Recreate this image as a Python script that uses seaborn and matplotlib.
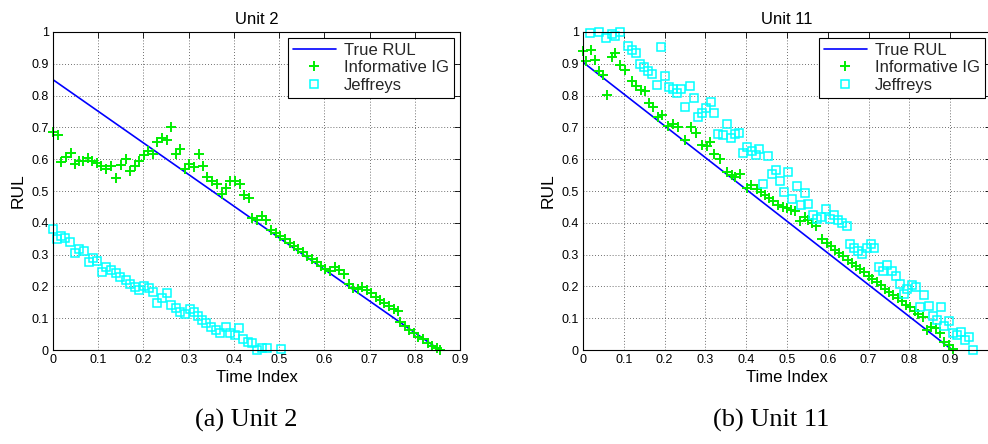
import matplotlib
matplotlib.use("Agg")
import matplotlib.pyplot as plt
import seaborn as sns

# ---------------- data ----------------
# Unit 2
u2_true_x = [0.0, 0.855]
u2_true_y = [0.85, 0.0]

u2_ig_x = [0.000, 0.011, 0.018, 0.028, 0.039, 0.048, 0.058, 0.066, 0.077, 0.087,
           0.097, 0.107, 0.118, 0.129, 0.140, 0.150, 0.161, 0.170, 0.181, 0.190,
           0.201, 0.210, 0.221, 0.230, 0.241, 0.251, 0.261, 0.271, 0.280, 0.291,
           0.301, 0.311, 0.323, 0.332, 0.341, 0.351, 0.362, 0.373, 0.382, 0.392,
           0.403, 0.413, 0.423, 0.433, 0.441, 0.452, 0.462, 0.472, 0.483, 0.493,
           0.502, 0.513, 0.523, 0.533, 0.542, 0.552, 0.562, 0.573, 0.583, 0.593,
           0.602, 0.613, 0.624, 0.633, 0.644, 0.654, 0.664, 0.674, 0.684, 0.694,
           0.703, 0.714, 0.723, 0.733, 0.743, 0.753, 0.762, 0.768, 0.779, 0.788,
           0.798, 0.808, 0.819, 0.829, 0.839, 0.849, 0.856]
u2_ig_y = [0.685, 0.675, 0.590, 0.608, 0.621, 0.584, 0.593, 0.595, 0.603, 0.595,
           0.588, 0.579, 0.569, 0.579, 0.540, 0.582, 0.600, 0.563, 0.579, 0.595,
           0.614, 0.626, 0.616, 0.653, 0.668, 0.661, 0.701, 0.616, 0.632, 0.570,
           0.584, 0.574, 0.616, 0.580, 0.543, 0.533, 0.523, 0.491, 0.511, 0.530,
           0.533, 0.522, 0.488, 0.477, 0.414, 0.409, 0.420, 0.409, 0.376, 0.367,
           0.357, 0.348, 0.338, 0.328, 0.318, 0.307, 0.297, 0.286, 0.276, 0.265,
           0.255, 0.247, 0.260, 0.252, 0.239, 0.207, 0.194, 0.191, 0.199, 0.189,
           0.178, 0.168, 0.157, 0.147, 0.139, 0.128, 0.124, 0.089, 0.076, 0.063,
           0.052, 0.042, 0.034, 0.023, 0.013, 0.005, 0.000]

u2_jf_x = [0.000, 0.009, 0.017, 0.027, 0.037, 0.048, 0.058, 0.069, 0.080, 0.089,
           0.098, 0.109, 0.118, 0.129, 0.140, 0.149, 0.161, 0.171, 0.181, 0.190,
           0.201, 0.212, 0.221, 0.230, 0.242, 0.251, 0.262, 0.271, 0.280, 0.291,
           0.302, 0.312, 0.321, 0.330, 0.339, 0.350, 0.361, 0.370, 0.382, 0.391,
           0.402, 0.412, 0.421, 0.431, 0.440, 0.451, 0.462, 0.473, 0.504]
u2_jf_y = [0.382, 0.348, 0.358, 0.351, 0.340, 0.306, 0.317, 0.312, 0.277, 0.290,
           0.281, 0.245, 0.260, 0.251, 0.241, 0.230, 0.220, 0.209, 0.199, 0.188,
           0.201, 0.194, 0.183, 0.149, 0.165, 0.178, 0.141, 0.131, 0.120, 0.113,
           0.129, 0.120, 0.106, 0.094, 0.084, 0.073, 0.063, 0.054, 0.073, 0.052,
           0.047, 0.068, 0.034, 0.024, 0.022, 0.000, 0.005, 0.005, 0.002]

# Unit 11
u11_true_x = [0.0, 0.905]
u11_true_y = [0.905, 0.0]

u11_ig_x = [0.000, 0.008, 0.019, 0.029, 0.038, 0.049, 0.060, 0.070, 0.079, 0.090,
            0.102, 0.119, 0.131, 0.142, 0.151, 0.162, 0.172, 0.184, 0.194, 0.209,
            0.221, 0.233, 0.250, 0.264, 0.276, 0.291, 0.303, 0.311, 0.322, 0.336,
            0.352, 0.364, 0.372, 0.385, 0.401, 0.412, 0.426, 0.436, 0.446, 0.457,
            0.466, 0.477, 0.489, 0.499, 0.510, 0.520, 0.532, 0.543, 0.552, 0.561,
            0.571, 0.585, 0.597, 0.607, 0.618, 0.628, 0.638, 0.649, 0.659, 0.668,
            0.679, 0.689, 0.700, 0.709, 0.720, 0.731, 0.741, 0.751, 0.761, 0.772,
            0.781, 0.792, 0.802, 0.813, 0.822, 0.833, 0.843, 0.853, 0.865, 0.876,
            0.886, 0.896, 0.906]
u11_ig_y = [0.939, 0.908, 0.944, 0.911, 0.878, 0.866, 0.803, 0.920, 0.934, 0.897,
            0.879, 0.845, 0.831, 0.819, 0.813, 0.777, 0.764, 0.732, 0.738, 0.703,
            0.711, 0.701, 0.659, 0.700, 0.682, 0.646, 0.640, 0.653, 0.617, 0.602,
            0.559, 0.551, 0.543, 0.553, 0.509, 0.520, 0.506, 0.496, 0.488, 0.478,
            0.467, 0.457, 0.449, 0.447, 0.441, 0.436, 0.405, 0.418, 0.410, 0.399,
            0.389, 0.350, 0.336, 0.326, 0.316, 0.305, 0.295, 0.284, 0.274, 0.265,
            0.255, 0.244, 0.234, 0.224, 0.214, 0.203, 0.193, 0.182, 0.174, 0.164,
            0.153, 0.143, 0.134, 0.124, 0.113, 0.103, 0.064, 0.072, 0.069, 0.053,
            0.024, 0.017, 0.003]

u11_jf_x = [0.018, 0.038, 0.057, 0.070, 0.079, 0.090, 0.110, 0.121, 0.131, 0.139,
            0.150, 0.160, 0.170, 0.182, 0.191, 0.200, 0.210, 0.221, 0.231, 0.241,
            0.251, 0.262, 0.272, 0.282, 0.292, 0.301, 0.313, 0.322, 0.331, 0.342,
            0.352, 0.363, 0.372, 0.382, 0.393, 0.403, 0.413, 0.423, 0.432, 0.442,
            0.453, 0.464, 0.473, 0.483, 0.493, 0.503, 0.513, 0.524, 0.534, 0.544,
            0.552, 0.563, 0.573, 0.583, 0.595, 0.606, 0.616, 0.626, 0.636, 0.646,
            0.655, 0.665, 0.675, 0.685, 0.696, 0.706, 0.714, 0.726, 0.736, 0.746,
            0.757, 0.767, 0.776, 0.786, 0.795, 0.806, 0.817, 0.826, 0.836, 0.847,
            0.857, 0.867, 0.878, 0.886, 0.896, 0.906, 0.917, 0.927, 0.937, 0.947,
            0.957]
u11_jf_y = [0.997, 1.000, 0.981, 0.995, 0.988, 1.000, 0.955, 0.944, 0.934, 0.899,
            0.889, 0.878, 0.869, 0.834, 0.952, 0.863, 0.826, 0.821, 0.808, 0.822,
            0.764, 0.829, 0.792, 0.732, 0.746, 0.761, 0.780, 0.746, 0.679, 0.677,
            0.711, 0.667, 0.679, 0.682, 0.619, 0.637, 0.627, 0.614, 0.633, 0.523,
            0.611, 0.553, 0.567, 0.530, 0.496, 0.560, 0.475, 0.515, 0.455, 0.494,
            0.459, 0.423, 0.412, 0.419, 0.444, 0.413, 0.423, 0.408, 0.399, 0.389,
            0.333, 0.321, 0.312, 0.302, 0.321, 0.333, 0.321, 0.260, 0.249, 0.266,
            0.247, 0.232, 0.208, 0.176, 0.192, 0.205, 0.197, 0.134, 0.174, 0.139,
            0.106, 0.095, 0.134, 0.074, 0.090, 0.053, 0.048, 0.057, 0.032, 0.041,
            0.001]

x_ticks_u2 = [0, 0.1, 0.2, 0.3, 0.4, 0.5, 0.6, 0.7, 0.8, 0.9]
x_labels_u2 = ["0", "0.1", "0.2", "0.3", "0.4", "0.5", "0.6", "0.7", "0.8", "0.9"]
x_ticks_u11 = [0, 0.1, 0.2, 0.3, 0.4, 0.5, 0.6, 0.7, 0.8, 0.9, 1.0]
x_labels_u11 = ["0", "0.1", "0.2", "0.3", "0.4", "0.5", "0.6", "0.7", "0.8", "0.9", ""]
y_ticks = [0, 0.1, 0.2, 0.3, 0.4, 0.5, 0.6, 0.7, 0.8, 0.9, 1.0]
y_labels = ["0", "0.1", "0.2", "0.3", "0.4", "0.5", "0.6", "0.7", "0.8", "0.9", "1"]

# ---------------- style ----------------
sns.set_theme(style="white")
plt.rcParams['font.family'] = ['Liberation Sans', 'DejaVu Sans']
plt.rcParams['legend.numpoints'] = 1

fig = plt.figure(figsize=(9.88, 4.44), dpi=100)
fig.patch.set_facecolor('white')
H = 444.0
W = 988.0
ax1 = fig.add_axes([53 / W, 1 - 350 / H, 407 / W, 318 / H])
ax2 = fig.add_axes([583 / W, 1 - 350 / H, 408 / W, 318 / H])

GREEN = '#00ee00'
CYAN = '#00ffff'
BLUE = '#0000ff'


def panel(ax, tx, ty, gx, gy, jx, jy, xmax, xt, xl, title):
    ax.set_facecolor('white')
    sns.lineplot(x=tx, y=ty, ax=ax, color=BLUE, linewidth=1.2,
                 label='True RUL', estimator=None, sort=False)
    sns.lineplot(x=gx, y=gy, ax=ax, estimator=None, sort=False, linestyle='',
                 marker='+', markersize=7, markeredgewidth=1.4,
                 markeredgecolor=GREEN, color=GREEN,
                 label='Informative IG', clip_on=False)
    sns.lineplot(x=jx, y=jy, ax=ax, estimator=None, sort=False, linestyle='',
                 marker='s', markersize=6, markeredgewidth=1.1,
                 markerfacecolor='none', markeredgecolor=CYAN,
                 color=CYAN, label='Jeffreys', clip_on=False)
    ax.set_xlim(0, xmax)
    ax.set_ylim(0, 1)
    ax.set_xticks(xt)
    ax.set_xticklabels(xl)
    ax.set_yticks(y_ticks)
    ax.set_yticklabels(y_labels)
    ax.grid(True, linestyle=(0, (1, 2.5)), color='0.25', linewidth=0.6)
    ax.set_axisbelow(True)
    ax.tick_params(direction='in', top=True, right=True, length=4, width=0.6,
                   labelsize=9, pad=3, colors='black')
    for s in ax.spines.values():
        s.set_visible(True)
        s.set_color('black')
        s.set_linewidth(0.8)
    ax.set_xlabel('Time Index', fontsize=12, labelpad=3, color='black')
    ax.set_ylabel('RUL', fontsize=12.5, labelpad=4, color='black')
    ax.set_title(title, fontsize=12, pad=6, color='black')
    leg = ax.legend(loc='upper right', fontsize=12, frameon=True, fancybox=False,
                    edgecolor='black', framealpha=1, borderaxespad=0.35,
                    handlelength=2.6, handletextpad=0.5, labelspacing=0.15,
                    borderpad=0.3)
    leg.get_frame().set_linewidth(0.8)


panel(ax1, u2_true_x, u2_true_y, u2_ig_x, u2_ig_y, u2_jf_x, u2_jf_y,
      0.9, x_ticks_u2, x_labels_u2, 'Unit 2')
panel(ax2, u11_true_x, u11_true_y, u11_ig_x, u11_ig_y, u11_jf_x, u11_jf_y,
      1.0, x_ticks_u11, x_labels_u11, 'Unit 11')

fig.text(246 / W, 1 - 420 / H, '(a) Unit 2', family='Liberation Serif',
         fontsize=19, ha='center', va='center', color='black')
fig.text(771 / W, 1 - 420 / H, '(b) Unit 11', family='Liberation Serif',
         fontsize=19, ha='center', va='center', color='black')

fig.savefig('out.png', dpi=100, facecolor='white')
